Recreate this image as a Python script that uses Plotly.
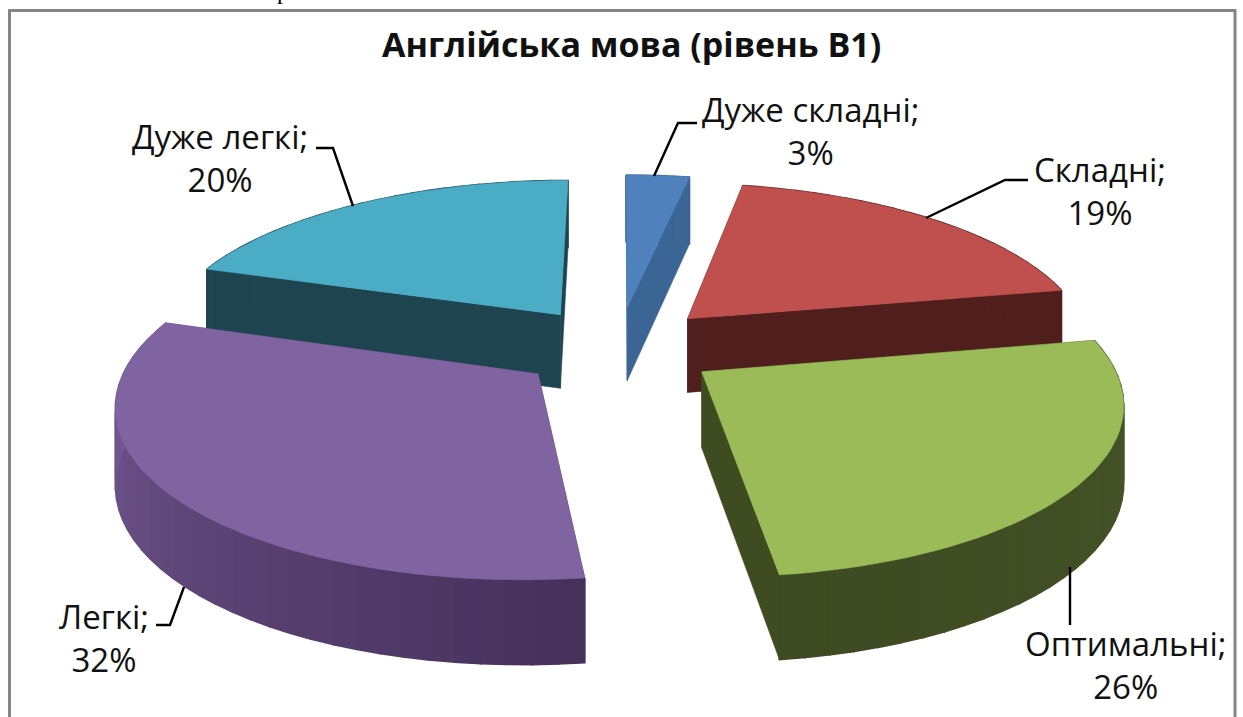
import math
import plotly.graph_objects as go

categories = ["Дуже складні", "Складні", "Оптимальні", "Легкі", "Дуже легкі"]
values = [3, 19, 26, 32, 20]
top_colors = ["#4f81bd", "#c0504d", "#9bbb59", "#8064a2", "#4bacc6"]
cut_colors = ["#3a6595", "#501e1d", "#3f4c22", "#4a3560", "#1e4450"]
side_near = ["#3a6595", "#501e1d", "#3e4a21", "#7a5e9b", "#1e4450"]
side_far = ["#3a6595", "#501e1d", "#46552a", "#45305a", "#1e4450"]

CX, CY = 618, 347
A, B, KX, KY, DEPTH, KZ, PULL = 404.5, 164.5, 0.157, 0.156, 75, 0.1, 0.25


def project(x, y, z=0.0):
    wx = 1 + KX * y
    wy = 1 + KY * y
    return CX + A * x / wx, CY - B * y / wy + DEPTH * z / (1 + KZ * y)


def lerp_color(c1, c2, t):
    p = [int(c1[i:i + 2], 16) for i in (1, 3, 5)]
    q = [int(c2[i:i + 2], 16) for i in (1, 3, 5)]
    return "rgb(%d,%d,%d)" % tuple(round(a + (b - a) * t) for a, b in zip(p, q))


fig = go.Figure()


def poly(pts, color, width=0.6):
    xs = [p[0] for p in pts] + [pts[0][0]]
    ys = [p[1] for p in pts] + [pts[0][1]]
    fig.add_trace(go.Scatter(x=xs, y=ys, mode="lines", fill="toself", fillcolor=color,
                             line=dict(color=color, width=width), hoverinfo="skip", showlegend=False))


total = sum(values)
slices = []
acc = 0
for i, v in enumerate(values):
    t0 = acc / total * 2 * math.pi
    acc += v
    t1 = acc / total * 2 * math.pi
    slices.append((i, t0, t1))

# painter's order: back to front by slice mid-angle depth
slices.sort(key=lambda s: -math.cos((s[1] + s[2]) / 2))

for i, t0, t1 in slices:
    mid = (t0 + t1) / 2
    ox, oy = PULL * math.sin(mid), PULL * math.cos(mid)
    rim = lambda t, z=0.0: project(ox + math.sin(t), oy + math.cos(t), z)
    apex = lambda z=0.0: project(ox, oy, z)
    faces = sorted([t0, t1], key=lambda t: -math.cos(t))
    for t in faces:
        poly([apex(), rim(t), rim(t, 1), apex(1)], cut_colors[i])
    n = max(2, round((t1 - t0) / math.radians(3)))
    for j in range(n):
        a = t0 + (t1 - t0) * j / n
        b = t0 + (t1 - t0) * (j + 1) / n
        frac = (j + 0.5) / n
        poly([rim(a), rim(b), rim(b, 1), rim(a, 1)], lerp_color(side_far[i], side_near[i], frac), 1.6)
    m = max(4, round((t1 - t0) / math.radians(2)))
    top = [apex()] + [rim(t0 + (t1 - t0) * j / m) for j in range(m + 1)]
    poly(top, top_colors[i])

FONT = "Open Sans, DejaVu Sans, sans-serif"
label_pos = {
    "Дуже складні": (810, 131, [(654, 176), (678, 123), (697, 123)]),
    "Складні": (1100, 191, [(926, 218), (1005, 180), (1028, 180)]),
    "Оптимальні": (1125, 665, [(1070, 567), (1070, 625)]),
    "Легкі": (104, 638, [(184, 587), (170, 625), (156, 625)]),
    "Дуже легкі": (220, 158, [(353, 206), (333, 148), (316, 148)]),
}
annotations = []
shapes = [dict(type="rect", xref="x", yref="y", x0=9.5, y0=10.5, x1=1235, y1=760,
               line=dict(color="#868686", width=3), layer="below")]
for cat, v in zip(categories, values):
    x, y, leader = label_pos[cat]
    annotations.append(dict(x=x, y=y, xref="x", yref="y", text=f"{cat};<br>{v}%", showarrow=False,
                            align="center", xanchor="center", yanchor="middle",
                            font=dict(family=FONT, size=33, color="#111111")))
    fig.add_trace(go.Scatter(x=[p[0] for p in leader], y=[p[1] for p in leader], mode="lines",
                             line=dict(color="#000000", width=2.4), hoverinfo="skip", showlegend=False))

annotations.append(dict(x=631, y=44, xref="x", yref="y", text="<b>Англійська мова (рівень В1)</b>",
                        showarrow=False, xanchor="center", yanchor="middle",
                        font=dict(family=FONT, size=34, color="#111111")))
annotations.append(dict(x=283, y=1 + 9 / 717, xref="x", yref="paper", text="р", showarrow=False,
                        xanchor="center", yanchor="middle",
                        font=dict(family="Liberation Serif", size=24, color="#000000")))

fig.update_layout(
    width=1243, height=717, margin=dict(l=0, r=0, t=0, b=0),
    paper_bgcolor="#ffffff", plot_bgcolor="#ffffff", showlegend=False,
    xaxis=dict(range=[0, 1243], visible=False, fixedrange=True),
    yaxis=dict(range=[717, 0], visible=False, fixedrange=True),
    annotations=annotations, shapes=shapes,
)
fig.write_html("out.html", config=dict(displayModeBar=False),
               post_script="document.body.style.margin='0';document.body.style.overflow='hidden';")
